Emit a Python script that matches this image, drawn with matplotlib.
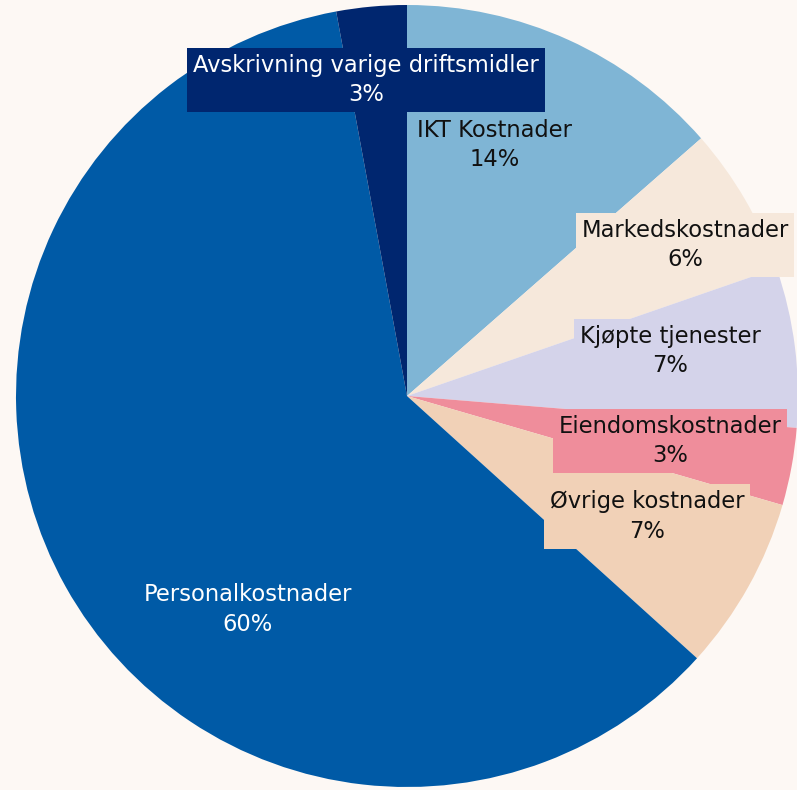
import matplotlib
matplotlib.use("Agg")
import matplotlib.pyplot as plt

categories = ["IKT Kostnader", "Markedskostnader", "Kjøpte tjenester",
              "Eiendomskostnader", "Øvrige kostnader", "Personalkostnader",
              "Avskrivning varige driftsmidler"]
values = [13.55, 6.15, 6.6, 3.2, 7.2, 60.4, 2.9]
pct_labels = ["14%", "6%", "7%", "3%", "7%", "60%", "3%"]

colors = ["#7FB5D5", "#F6E8DB", "#D4D3EA", "#EF8D9B", "#F1D1B7", "#005AA6", "#00266F"]
text_colors = ["#111111", "#111111", "#111111", "#111111", "#111111", "#FFFFFF", "#FFFFFF"]
# label centres in units of the pie radius
label_pos = [(0.225, 0.642), (0.711, 0.386), (0.673, 0.115), (0.673, -0.115),
             (0.614, -0.308), (-0.407, -0.547), (-0.105, 0.808)]
label_box = [False, True, True, True, True, False, True]

bg = "#FDF8F4"
W, H = 797, 790
cx, cy, R = 407, 396, 391

fig = plt.figure(figsize=(W / 100, H / 100), dpi=100, facecolor=bg)
ax = fig.add_axes([0, 0, 1, 1])
ax.set_facecolor(bg)
ax.pie(values, colors=colors, startangle=90, counterclock=False, radius=1,
       wedgeprops=dict(linewidth=0))
ax.set_xlim(-cx / R, (W - cx) / R)
ax.set_ylim(-(H - cy) / R, cy / R)
ax.set_aspect("equal")
ax.axis("off")

for cat, pct, (x, y), col, tc, box in zip(categories, pct_labels, label_pos, colors,
                                          text_colors, label_box):
    kw = {}
    if box:
        kw["bbox"] = dict(boxstyle="square,pad=0.25", fc=col, ec="none")
    ax.text(x, y, f"{cat}\n{pct}", ha="center", va="center", fontsize=16.3,
            color=tc, linespacing=1.38, family=["DejaVu Sans"], **kw)

fig.savefig("out.png", dpi=100, facecolor=bg)
